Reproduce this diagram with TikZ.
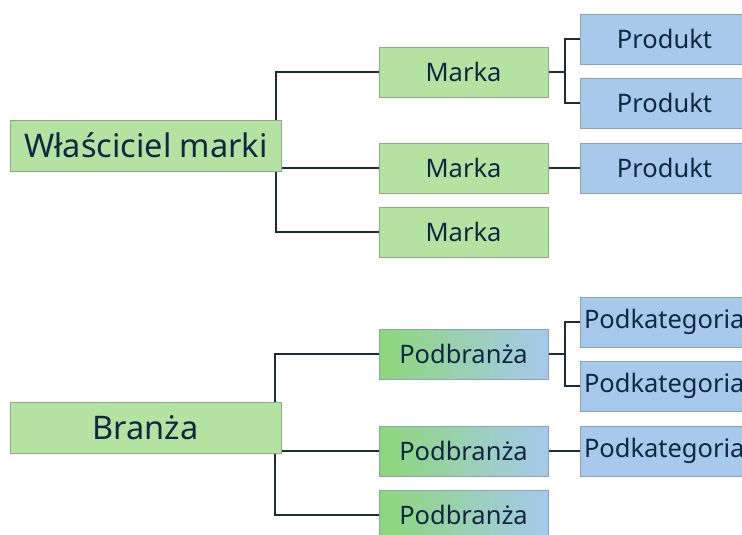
\documentclass[tikz,border=0pt]{standalone}
\usepackage{fontspec}
\setmainfont{Noto Sans}
\usetikzlibrary{backgrounds}

\definecolor{tekst}{HTML}{0E2841}
\definecolor{linia}{HTML}{1F2B3C}
\definecolor{zielony}{HTML}{B3E2A1}
\definecolor{mocnyzielony}{HTML}{8ED77A}
\definecolor{niebieski}{HTML}{A6C9EC}
\definecolor{ramkaz}{HTML}{8FA887}
\definecolor{ramkan}{HTML}{8CA2B8}

\begin{document}
\begin{tikzpicture}[x=0.02cm, y=-0.02cm,
  box/.style={minimum width=3.38cm, minimum height=1cm, inner sep=0pt, text=tekst,
    font=\fontsize{14.5}{17}\selectfont},
  rootbox/.style={box, fill=zielony, draw=ramkaz, minimum width=5.42cm,
    minimum height=1.02cm, font=\fontsize{18.5}{22}\selectfont},
  markbox/.style={box, fill=zielony, draw=ramkaz},
  prodbox/.style={box, fill=niebieski, draw=ramkan},
  subbox/.style={box, left color=mocnyzielony, right color=niebieski, draw=ramkan},
  catbox/.style={prodbox, text width=3.22cm, align=left},
  conn/.style={draw=linia, line width=1.1pt}]
  \useasboundingbox (0,0) rectangle (742,534);
  \clip (0,0) rectangle (742,534);

  % marki
  \node[rootbox] (wlasciciel) at (146,145.5) {Właściciel marki};
  \node[markbox] (marka1) at (463.5,72) {Marka};
  \node[markbox] (marka2) at (463.5,168) {Marka};
  \node[markbox] (marka3) at (463.5,232) {Marka};
  \node[prodbox] (produkt1) at (664.5,39) {Produkt};
  \node[prodbox] (produkt2) at (664.5,103) {Produkt};
  \node[prodbox] (produkt3) at (664.5,168) {Produkt};

  % branze
  \node[rootbox] (branza) at (145.5,428) {Branża};
  \node[subbox] (podbranza1) at (463.5,354) {Podbranża};
  \node[subbox] (podbranza2) at (463.5,451) {Podbranża};
  \node[subbox] (podbranza3) at (463.5,515) {Podbranża};
  \node[catbox] (kategoria1) at (664.5,322) {Podkategoria};
  \node[catbox] (kategoria2) at (664.5,386) {Podkategoria};
  \node[catbox] (kategoria3) at (664.5,451) {Podkategoria};

  \begin{scope}[on background layer]
    \draw[conn] (wlasciciel.east) ++(-6,0) |- (marka1.west);
    \draw[conn] (wlasciciel.east) ++(-6,0) |- (marka2.west);
    \draw[conn] (wlasciciel.east) ++(-6,0) |- (marka3.west);
    \draw[conn] (marka1.east) -- ++(17,0) |- (produkt1.west);
    \draw[conn] (marka1.east) -- ++(17,0) |- (produkt2.west);
    \draw[conn] (marka2.east) -- (produkt3.west);

    \draw[conn] (branza.east) ++(-6,0) |- (podbranza1.west);
    \draw[conn] (branza.east) ++(-6,0) |- (podbranza2.west);
    \draw[conn] (branza.east) ++(-6,0) |- (podbranza3.west);
    \draw[conn] (podbranza1.east) -- ++(17,0) |- (kategoria1.west);
    \draw[conn] (podbranza1.east) -- ++(17,0) |- (kategoria2.west);
    \draw[conn] (podbranza2.east) -- (kategoria3.west);
  \end{scope}
\end{tikzpicture}
\end{document}
